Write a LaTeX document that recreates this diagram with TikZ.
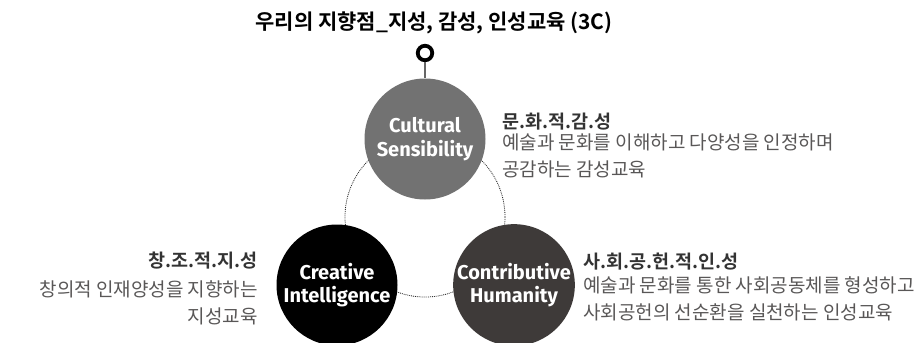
\documentclass[tikz,border=0pt]{standalone}
\usepackage{fontspec}
\usepackage{tikz}
\usetikzlibrary{positioning}
\newfontfamily\krfont{Noto Sans CJK KR}
\newfontfamily\krbold{Noto Sans CJK KR Bold}
\newfontfamily\dinfont{Fira Sans}[BoldFont={Fira Sans Bold}]

\definecolor{cultgray}{HTML}{727272}
\definecolor{contribgray}{HTML}{3E3A39}
\definecolor{headgray}{HTML}{333333}
\definecolor{bodygray}{HTML}{595757}

\tikzset{
  ball/.style={circle, minimum size=121pt, inner sep=0pt, text=white, align=center,
    font=\dinfont\bfseries\fontsize{20}{23.5}\selectfont},
  heading/.style={inner sep=0pt, text=headgray, font=\krbold\fontsize{18.5}{22}\selectfont},
  body/.style={inner sep=0pt, text=bodygray, font=\krfont\fontsize{19}{26.5}\selectfont},
}

\begin{document}
\begin{tikzpicture}[x=1pt,y=-1pt]
\useasboundingbox (0,0) rectangle (922,343);
% title and pin
\node[anchor=base, inner sep=0pt, font=\krbold\fontsize{21}{24}\selectfont] (title) at (434,29) {우리의 지향점\_지성, 감성, 인성교육 (3C)};
\node[circle, draw=black, line width=3.8pt, minimum size=14.5pt, inner sep=0pt] (pin) at (425,53) {};

% dotted ring behind the three circles
\draw[line width=0.8pt, dash pattern=on 0.9pt off 1pt, black!85] (425,217) circle (80);

\node[ball, fill=cultgray] (cult) at (425,139) {Cultural\\Sensibility};
\node[ball, fill=black] (crea) at (337,285) {Creative\\Intelligence};
\node[ball, fill=contribgray] (contrib) at (514,285) {Contributive\\Humanity};
\draw[line width=1.6pt, black!60] (pin) -- (cult);

% descriptions (base of a two-line body sits on its last line)
\node[heading, anchor=base west] (cultH) at (502,128) {문.화.적.감.성};
\node[body, anchor=base west, align=left] (cultB) at (502,176) {예술과 문화를 이해하고 다양성을 인정하며\\공감하는 감성교육};

\node[heading, anchor=base east] (creaH) at (258,267) {창.조.적.지.성};
\node[body, anchor=base east, align=right] (creaB) at (258,323) {창의적 인재양성을 지향하는\\지성교육};

\node[heading, anchor=base west] (contribH) at (583,268) {사.회.공.헌.적.인.성};
\node[body, anchor=base west, align=left] (contribB) at (583,319) {예술과 문화를 통한 사회공동체를 형성하고\\사회공헌의 선순환을 실천하는 인성교육};
\end{tikzpicture}
\end{document}
